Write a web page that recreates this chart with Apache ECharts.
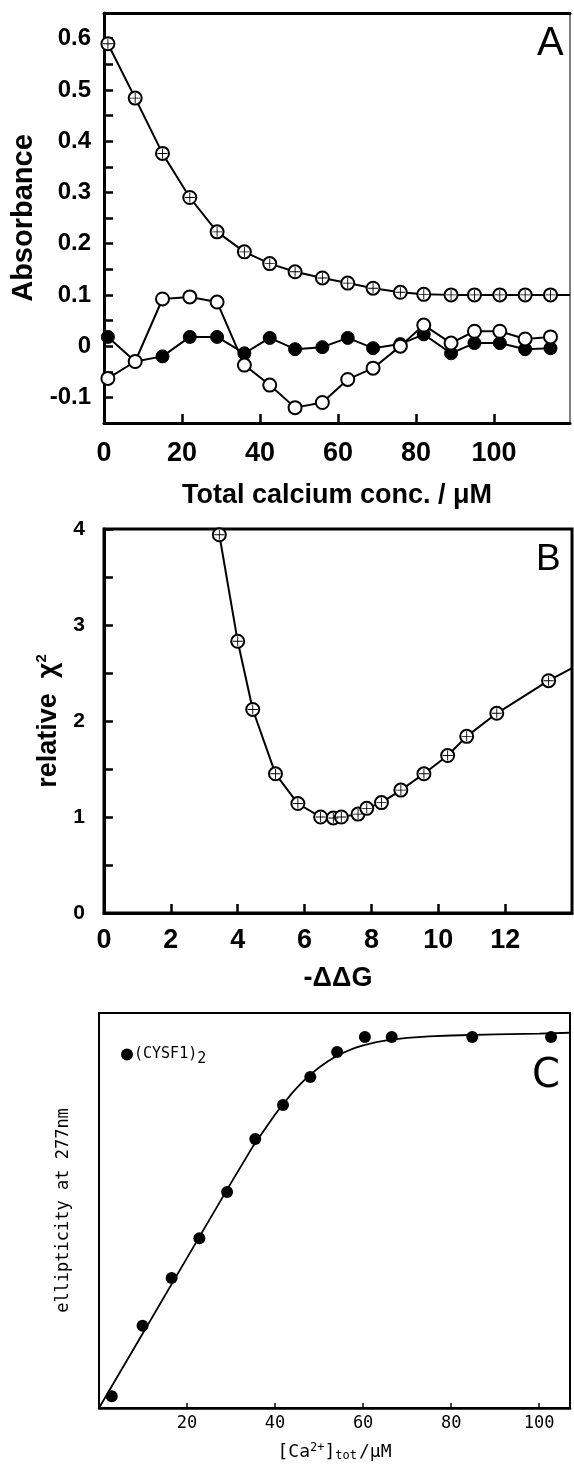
<!DOCTYPE html>
<html>
<head>
<meta charset="utf-8">
<script src="https://cdn.jsdelivr.net/npm/echarts@6/dist/echarts.min.js"></script>
<style>
  html, body { margin: 0; padding: 0; background: #fff; }
  #chart { width: 574px; height: 1475px; }
</style>
</head>
<body>
<div id="chart"></div>
<script>
// Panel A: absorbance vs total calcium concentration
const aConc    = [1, 8, 15, 22, 29, 36, 42.5, 49, 56, 62.5, 69, 76, 82, 89, 95, 101.5, 108, 114.5];
const aCrossed = [0.590, 0.484, 0.376, 0.290, 0.223, 0.184, 0.161, 0.145, 0.133, 0.123, 0.113, 0.105, 0.101, 0.100, 0.100, 0.100, 0.100, 0.100];
const aFilled  = [0.018, -0.030, -0.020, 0.018, 0.018, -0.014, 0.016, -0.006, -0.002, 0.016, -0.004, 0.004, 0.023, -0.014, 0.006, 0.006, -0.006, -0.004];
const aOpen    = [-0.063, -0.030, 0.092, 0.096, 0.086, -0.037, -0.076, -0.120, -0.110, -0.065, -0.043, 0.000, 0.041, 0.006, 0.029, 0.029, 0.014, 0.018];
const aCurveEnd = [119.5, 0.100];

// Panel B: relative chi-square vs -ddG
const bDDG = [3.45, 4.0, 4.45, 5.13, 5.8, 6.48, 6.86, 7.1, 7.6, 7.86, 8.3, 8.88, 9.57, 10.28, 10.85, 11.75, 13.3];
const bChi = [3.94, 2.83, 2.12, 1.45, 1.14, 1.0, 0.99, 1.0, 1.03, 1.09, 1.15, 1.28, 1.45, 1.64, 1.84, 2.08, 2.42];
const bCurveEnd = [14, 2.55];

// Panel C: ellipticity at 277 nm vs total Ca2+
const cCa   = [2.9, 9.9, 16.5, 22.8, 29.1, 35.5, 41.8, 48, 54.1, 60.4, 66.5, 84.8, 102.7];
const cEll  = [3.0, 20.8, 32.9, 43.0, 54.7, 68.1, 76.7, 83.8, 90.1, 93.9, 93.9, 93.9, 93.9];
const cFitX = [0, 10, 20, 25, 30, 35, 40, 42, 44, 46, 48, 50, 52, 54, 56, 58, 60, 63, 66, 70, 75, 80, 90, 100, 107];
const cFitY = [0, 19, 38, 47.5, 57, 66.3, 74.3, 77.2, 79.9, 82.3, 84.4, 86.2, 87.8, 89.1, 90.2, 91.1, 91.8, 92.6, 93.2, 93.7, 94.1, 94.3, 94.6, 94.8, 95];

const aXTicks = [0, 20, 40, 60, 80, 100];
const bXTicks = [0, 2, 4, 6, 8, 10, 12];
const cXTicks = [20, 40, 60, 80, 100];

const pairs = (xs, ys) => xs.map((x, i) => [x, ys[i]]);
const HELV = 'Liberation Sans';
const MONO = 'DejaVu Sans Mono';

// cross drawn inside the white ring markers
const CROSS = 'path://M-0.9,-10 H0.9 V10 H-0.9 Z M-10,-0.9 H10 V0.9 H-10 Z';

const chart = echarts.init(document.getElementById('chart'), null, { renderer: 'canvas' });

const boldLabel = (size) => ({ color: '#000', fontFamily: HELV, fontWeight: 'bold', fontSize: size });

const option = {
  animation: false,
  backgroundColor: '#fff',
  grid: [
    { left: 104, top: 13, width: 466, height: 410, show: true, borderColor: '#000', borderWidth: 1 },
    { left: 104, top: 529, width: 468, height: 384, show: true, borderColor: '#000', borderWidth: 3 },
    { left: 99, top: 1013, width: 471, height: 395, show: true, borderColor: '#000', borderWidth: 2 }
  ],
  xAxis: [
    {
      gridIndex: 0, type: 'value', min: 0, max: aCurveEnd[0], interval: 20,
      name: 'Total calcium conc. / \u03bcM', nameLocation: 'middle', nameGap: 59,
      nameTextStyle: boldLabel(27),
      axisLine: { show: true, onZero: false, lineStyle: { color: '#000', width: 3 } },
      axisTick: { show: true, inside: true, length: 9, lineStyle: { color: '#000', width: 2.5 } },
      axisLabel: {
        margin: 17, ...boldLabel(27), showMaxLabel: false,
        formatter: v => aXTicks.includes(v) ? String(v) : ''
      },
      splitLine: { show: false }
    },
    {
      gridIndex: 0, type: 'value', position: 'top', min: 0, max: aCurveEnd[0],
      axisLine: { show: true, onZero: false, lineStyle: { color: '#000', width: 3 } },
      axisTick: { show: false }, axisLabel: { show: false }, splitLine: { show: false }
    },
    {
      gridIndex: 1, type: 'value', min: 0, max: bCurveEnd[0], interval: 2,
      name: '-\u0394\u0394G', nameLocation: 'middle', nameGap: 52,
      nameTextStyle: boldLabel(27),
      axisLine: { show: true, onZero: false, lineStyle: { color: '#000', width: 3 } },
      axisTick: { show: true, inside: true, length: 9, lineStyle: { color: '#000', width: 2.5 } },
      axisLabel: {
        margin: 14, ...boldLabel(27), showMaxLabel: false,
        formatter: v => bXTicks.includes(v) ? String(v) : ''
      },
      splitLine: { show: false }
    },
    {
      gridIndex: 2, type: 'value', min: 0, max: 107, interval: 20,
      name: '[Ca{sup|2+}]{sub|tot}/\u03bcM', nameLocation: 'middle', nameGap: 34,
      nameTextStyle: {
        color: '#000', fontFamily: MONO, fontSize: 18,
        rich: {
          sup: { fontFamily: MONO, fontSize: 12, color: '#000', verticalAlign: 'top', padding: [0, 0, 8, 0] },
          sub: { fontFamily: MONO, fontSize: 12, color: '#000', verticalAlign: 'bottom', padding: [8, 2, 0, 0] }
        }
      },
      axisLine: { show: true, onZero: false, lineStyle: { color: '#000', width: 2.5 } },
      axisTick: { show: true, inside: true, length: 5, lineStyle: { color: '#000', width: 1.5 } },
      axisLabel: {
        margin: 7, color: '#000', fontFamily: MONO, fontSize: 17, showMaxLabel: false, showMinLabel: false,
        formatter: v => cXTicks.includes(v) ? String(v) : ''
      },
      splitLine: { show: false }
    }
  ],
  yAxis: [
    {
      gridIndex: 0, type: 'value', min: -0.15, max: 0.65, interval: 0.05,
      name: 'Absorbance', nameLocation: 'middle', nameGap: 66, nameRotate: 90,
      nameTextStyle: boldLabel(29),
      axisLine: { show: true, onZero: false, lineStyle: { color: '#000', width: 3 } },
      axisTick: { show: true, inside: true, length: 9, lineStyle: { color: '#000', width: 2.5 } },
      axisLabel: {
        margin: 13, ...boldLabel(24),
        formatter: v => {
          const k = Math.round(v * 20);
          if (k % 2 !== 0) return '';
          const t = Math.round(v * 10) / 10;
          return t === 0 ? '0' : String(t);
        }
      },
      splitLine: { show: false }
    },
    {
      gridIndex: 1, type: 'value', min: 0, max: 4, interval: 0.5,
      name: '{t|relative  \u03c7}{s|2}', nameLocation: 'middle', nameGap: 40, nameRotate: 90,
      nameTextStyle: {
        ...boldLabel(27),
        rich: {
          t: { ...boldLabel(27) },
          s: { ...boldLabel(15), verticalAlign: 'top', padding: [0, 0, 14, 0] }
        }
      },
      axisLine: { show: true, onZero: false, lineStyle: { color: '#000', width: 3 } },
      axisTick: { show: true, inside: true, length: 9, lineStyle: { color: '#000', width: 2.5 } },
      axisLabel: {
        margin: 19, ...boldLabel(21),
        formatter: v => Number.isInteger(v) ? String(v) : ''
      },
      splitLine: { show: false }
    },
    {
      gridIndex: 2, type: 'value', min: 0, max: 100,
      name: 'ellipticity at 277nm', nameLocation: 'middle', nameGap: 27, nameRotate: 90,
      nameTextStyle: { color: '#000', fontFamily: MONO, fontSize: 17 },
      axisLine: { show: true, onZero: false, lineStyle: { color: '#000', width: 2 } },
      axisTick: { show: false }, axisLabel: { show: false }, splitLine: { show: false }
    }
  ],
  legend: {
    left: 116, top: 1042,
    data: [{ name: '(CYSF1)2', icon: 'circle', itemStyle: { color: '#000', opacity: 1 } }],
    itemWidth: 12, itemHeight: 12,
    formatter: () => '{a|(CYSF1)}{b|2}',
    textStyle: {
      color: '#000', fontFamily: MONO, fontSize: 15, padding: [0, 0, 0, -4],
      rich: {
        a: { fontFamily: MONO, fontSize: 15, color: '#000' },
        b: { fontFamily: MONO, fontSize: 15, color: '#000', verticalAlign: 'bottom', padding: [10, 0, 0, 0] }
      }
    }
  },
  graphic: [
    { type: 'text', left: 537, top: 24, style: { text: 'A', font: '40px "Liberation Sans"', fill: '#000' } },
    { type: 'text', left: 536, top: 541, style: { text: 'B', font: '37px "Liberation Sans"', fill: '#000' } },
    { type: 'text', left: 532, top: 1057, style: { text: 'C', font: '40px "DejaVu Sans"', fill: '#000' } }
  ],
  series: [
    // A: filled circles
    {
      type: 'line', xAxisIndex: 0, yAxisIndex: 0, data: pairs(aConc, aFilled), z: 3,
      symbol: 'circle', symbolSize: 13,
      lineStyle: { color: '#000', width: 2 },
      itemStyle: { color: '#000', borderColor: '#000', borderWidth: 1, opacity: 1 }
    },
    // A: open circles
    {
      type: 'line', xAxisIndex: 0, yAxisIndex: 0, data: pairs(aConc, aOpen), z: 4,
      symbol: 'circle', symbolSize: 13,
      lineStyle: { color: '#000', width: 2 },
      itemStyle: { color: '#fff', borderColor: '#000', borderWidth: 2, opacity: 1 }
    },
    // A: crossed circles, curve carried on to the right edge
    {
      type: 'line', xAxisIndex: 0, yAxisIndex: 0, z: 5,
      data: pairs(aConc, aCrossed).concat([{ value: aCurveEnd, symbol: 'none' }]),
      symbol: 'circle', symbolSize: 13,
      lineStyle: { color: '#000', width: 2 },
      itemStyle: { color: '#fff', borderColor: '#000', borderWidth: 2, opacity: 1 }
    },
    {
      type: 'scatter', xAxisIndex: 0, yAxisIndex: 0, z: 6,
      data: pairs(aConc, aCrossed), symbol: CROSS, symbolSize: 10,
      itemStyle: { color: '#000', opacity: 1 }
    },
    // B: crossed circles along the chi-square curve
    {
      type: 'line', xAxisIndex: 2, yAxisIndex: 1, z: 5,
      data: pairs(bDDG, bChi).concat([{ value: bCurveEnd, symbol: 'none' }]),
      symbol: 'circle', symbolSize: 13,
      lineStyle: { color: '#000', width: 2 },
      itemStyle: { color: '#fff', borderColor: '#000', borderWidth: 2, opacity: 1 }
    },
    {
      type: 'scatter', xAxisIndex: 2, yAxisIndex: 1, z: 6,
      data: pairs(bDDG, bChi), symbol: CROSS, symbolSize: 10,
      itemStyle: { color: '#000', opacity: 1 }
    },
    // C: fitted binding curve
    {
      type: 'line', xAxisIndex: 3, yAxisIndex: 2, z: 3,
      data: pairs(cFitX, cFitY), symbol: 'none',
      lineStyle: { color: '#000', width: 1.8 }
    },
    // C: measured points
    {
      name: '(CYSF1)2', type: 'scatter', xAxisIndex: 3, yAxisIndex: 2, z: 4,
      data: pairs(cCa, cEll), symbol: 'circle', symbolSize: 12,
      itemStyle: { color: '#000', opacity: 1 }
    }
  ]
};

chart.setOption(option);
</script>
</body>
</html>
